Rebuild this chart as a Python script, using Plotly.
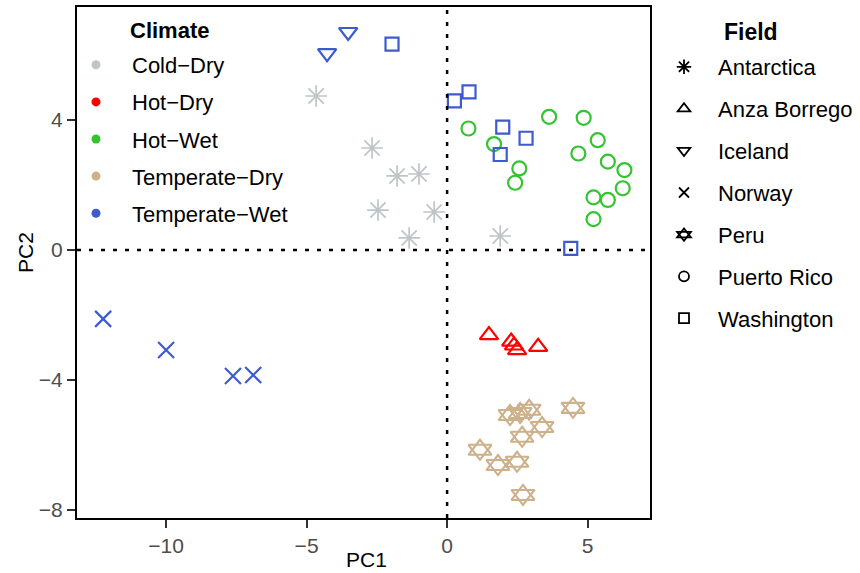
import plotly.graph_objects as go

# ---- data ----
antarctica_x = [-4.66, -2.67, -1.78, -1.0, -2.46, -0.46, -1.35, 1.89]
antarctica_y = [4.74, 3.14, 2.28, 2.34, 1.23, 1.17, 0.37, 0.43]

anza_x = [1.49, 2.28, 2.38, 2.49, 3.24]
anza_y = [-2.62, -2.82, -2.94, -3.08, -2.98]

iceland_x = [-4.27, -3.52]
iceland_y = [6.06, 6.71]

norway_x = [-12.24, -10.0, -7.62, -6.9]
norway_y = [-2.12, -3.08, -3.88, -3.85]

peru_x = [2.24, 2.6, 2.92, 3.38, 2.67, 1.17, 1.81, 2.49, 2.7, 4.48]
peru_y = [-5.08, -5.02, -4.92, -5.45, -5.75, -6.15, -6.62, -6.52, -7.54, -4.86]

pr_x = [0.76, 1.67, 2.57, 2.42, 3.63, 4.86, 5.36, 4.67, 5.72, 6.31, 6.25, 5.21, 5.72, 5.21]
pr_y = [3.74, 3.26, 2.51, 2.07, 4.10, 4.07, 3.38, 2.97, 2.72, 2.46, 1.90, 1.62, 1.54, 0.95]

wa_x = [-1.96, 0.26, 0.78, 1.98, 2.81, 1.89, 4.40]
wa_y = [6.34, 4.59, 4.87, 3.78, 3.44, 2.94, 0.05]

climates = ["Cold−Dry", "Hot−Dry", "Hot−Wet", "Temperate−Dry", "Temperate−Wet"]
climate_colors = ["#BEC5C8", "#FF0000", "#33C42F", "#CDB18B", "#3D5BCF"]

fields = ["Antarctica", "Anza Borrego", "Iceland", "Norway", "Peru", "Puerto Rico", "Washington"]

x_ticks = [-10, -5, 0, 5]
y_ticks = [-8, -4, 0, 4]

# ---- figure ----
FONT = "Liberation Sans, Arial, sans-serif"
fig = go.Figure()

# Peru uses two superimposed triangles (star of David)
groups = [
    (antarctica_x, antarctica_y, "asterisk-open", climate_colors[0], 18, 1.7),
    (anza_x, anza_y, "triangle-up-open", climate_colors[1], 16, 2.2),
    (iceland_x, iceland_y, "triangle-down-open", climate_colors[4], 16, 2.2),
    (norway_x, norway_y, "x-thin-open", climate_colors[4], 16, 2.2),
    (peru_x, peru_y, "triangle-up-open", climate_colors[3], 20, 2.1),
    (peru_x, peru_y, "triangle-down-open", climate_colors[3], 20, 2.1),
    (pr_x, pr_y, "circle-open", climate_colors[2], 14, 2.2),
    (wa_x, wa_y, "square-open", climate_colors[4], 13, 2.2),
]
for gx, gy, sym, col, sz, lw in groups:
    fig.add_trace(go.Scatter(
        x=gx, y=gy, mode="markers", showlegend=False, hoverinfo="skip",
        marker=dict(symbol=sym, size=sz, color=col, line=dict(color=col, width=lw)),
    ))

# Climate legend entries
for i, (name, col) in enumerate(zip(climates, climate_colors)):
    fig.add_trace(go.Scatter(
        x=[None], y=[None], mode="markers", name=name, legend="legend",
        legendgroup="c%d" % i,
        marker=dict(symbol="circle", size=9, color=col),
    ))

# Field legend entries
field_syms = ["asterisk-open", "triangle-up-open", "triangle-down-open", "x-thin-open",
              "triangle-up-open", "circle-open", "square-open"]
field_sizes = [12, 11, 11, 10, 12, 10, 10]
for i, (name, sym) in enumerate(zip(fields, field_syms)):
    fig.add_trace(go.Scatter(
        x=[None], y=[None], mode="markers", name=name, legend="legend2",
        legendgroup="f%d" % i,
        marker=dict(symbol=sym, size=field_sizes[i], color="black",
                    line=dict(color="black", width=1.8)),
    ))
# second triangle of the Peru key (overlaid legend with invisible text)
fig.add_trace(go.Scatter(
    x=[None], y=[None], mode="markers", name=fields[4], legend="legend3",
    legendgroup="f4b",
    marker=dict(symbol="triangle-down-open", size=field_sizes[4], color="black",
                line=dict(color="black", width=1.8)),
))

W, H = 860, 573
L, R, T, B = 77, 210, 7, 55
pw, ph = W - L - R, H - T - B


def px(xp):
    return (xp - L) / pw


def py(yp):
    return (H - B - yp) / ph


axis_common = dict(
    showgrid=False, zeroline=False, showline=True, linecolor="black", linewidth=2,
    mirror=True, ticks="outside", ticklen=8, tickwidth=2, tickcolor="#333333",
    tickfont=dict(family=FONT, size=21, color="#4D4D4D"),
)

F_TOP = 46
F_PITCH = 42
F_GAP = 10.3
F_LEFT = 650

fig.update_layout(
    width=W, height=H,
    margin=dict(l=L, r=R, t=T, b=B, autoexpand=False),
    paper_bgcolor="white", plot_bgcolor="white",
    font=dict(family=FONT, color="black"),
    xaxis=dict(range=[-13.17, 7.22], tickvals=x_ticks, **axis_common),
    yaxis=dict(range=[-8.25, 7.48], tickvals=y_ticks, **axis_common),
    legend=dict(
        x=px(60), y=py(44), xanchor="left", yanchor="top",
        bgcolor="rgba(0,0,0,0)", borderwidth=0, itemwidth=62,
        traceorder="grouped", tracegroupgap=5.5,
        font=dict(family=FONT, size=22, color="black"),
        itemclick=False, itemdoubleclick=False,
    ),
    legend2=dict(
        x=px(F_LEFT), y=py(F_TOP), xanchor="left", yanchor="top",
        bgcolor="rgba(0,0,0,0)", borderwidth=0, itemwidth=58,
        traceorder="grouped", tracegroupgap=F_GAP,
        font=dict(family=FONT, size=22, color="black"),
        itemclick=False, itemdoubleclick=False,
    ),
    legend3=dict(
        x=px(F_LEFT), y=py(F_TOP + 4 * F_PITCH), xanchor="left", yanchor="top",
        bgcolor="rgba(0,0,0,0)", borderwidth=0, itemwidth=58,
        font=dict(family=FONT, size=22, color="rgba(0,0,0,0)"),
        itemclick=False, itemdoubleclick=False,
    ),
    shapes=[
        dict(type="line", xref="x", yref="paper", x0=0, x1=0, y0=0, y1=1,
             line=dict(color="black", width=2.5, dash="4px,8px")),
        dict(type="line", xref="paper", yref="y", x0=0, x1=1, y0=0, y1=0,
             line=dict(color="black", width=2.5, dash="4px,8px")),
    ],
    annotations=[
        dict(text="<b>Climate</b>", x=px(169), y=py(30), xref="paper", yref="paper",
             xanchor="center", yanchor="middle",
             showarrow=False, font=dict(family=FONT, size=22, color="black")),
        dict(text="<b>Field</b>", x=px(751), y=py(32), xref="paper", yref="paper",
             xanchor="center", yanchor="middle",
             showarrow=False, font=dict(family=FONT, size=23, color="black")),
        dict(text="PC1", x=px(366), y=py(560), xref="paper", yref="paper",
             xanchor="center", yanchor="middle",
             showarrow=False, font=dict(family=FONT, size=21, color="black")),
        dict(text="PC2", x=px(25), y=py(253), xref="paper", yref="paper",
             xanchor="center", yanchor="middle",
             showarrow=False, textangle=-90, font=dict(family=FONT, size=21, color="black")),
    ],
)

fig.write_html("out.html")
